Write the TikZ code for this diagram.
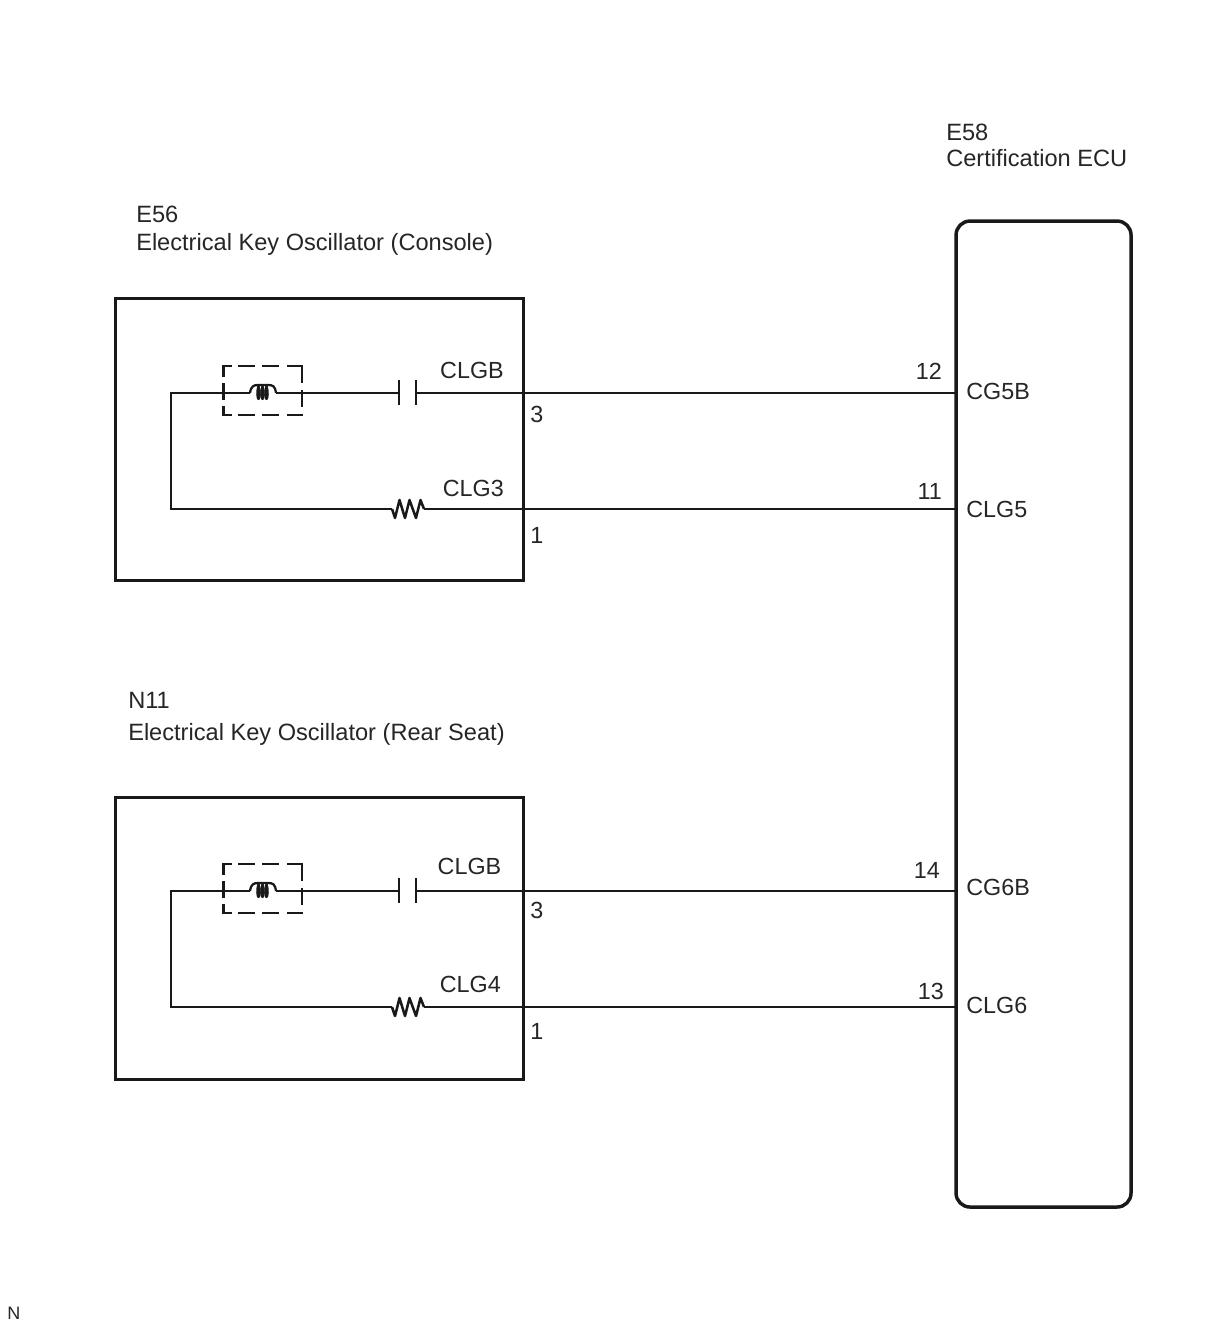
\documentclass[tikz,border=0pt]{standalone}
\usepackage{fontspec}
\setmainfont{Liberation Sans}
\tikzset{
  lbl/.style={inner sep=0pt,anchor=base west,text=black!85,font=\fontsize{17.7pt}{20pt}\selectfont},
  lblp/.style={lbl,font=\fontsize{17.5pt}{20pt}\selectfont},
  lblr/.style={lblp,anchor=base east},
  unitbox/.style={draw=black!90,line width=2.3pt,rectangle,inner sep=0pt,anchor=north west},
  ecubox/.style={draw=black!90,line width=2.6pt,rectangle,rounded corners=10.5pt,inner sep=0pt,anchor=north west},
  wire/.style={draw=black!90,line width=1.8pt,line join=miter},
  symb/.style={draw=black!90,line width=1.7pt,line join=round},
  shield/.style={draw=black!90,line width=2.2pt,line join=miter}
}
\newcommand{\oscblock}[2]{% #1 prefix, #2 y offset
  \begin{scope}[shift={(0,#2)}]
    \coordinate (#1loop) at (171,393);
    \coordinate (#1loopb) at (171,509);
    \coordinate (#1ca) at (399,393);
    \coordinate (#1cb) at (416,393);
    \coordinate (#1ra) at (392,509);
    \coordinate (#1rb) at (424,509);
    \coordinate (#1la) at (250,393);
    \coordinate (#1lb) at (276,393);
    % coil
    \draw[wire] (#1loop) -- (#1la);
    \draw[symb] (#1la) .. controls (251,386) and (254,385) .. (258,385)
      -- (268,385) .. controls (273,385) and (275,386) .. (#1lb);
    \foreach \cx in {258.5,262.5,266.5}
      \draw[symb] (\cx,386) .. controls (\cx-2,392) and (\cx-1,398.5) .. (\cx,399)
        .. controls (\cx+1,398.5) and (\cx+2,392) .. (\cx,386);
    \draw[wire] (#1lb) -- (#1ca);
    % dashed shield, dash by dash
    \draw[shield] (223.5,377) -- (223.5,366) -- (232,366);
    \draw[shield] (238,366) -- (255,366);
    \draw[shield] (262,366) -- (279,366);
    \draw[shield] (287,366) -- (302,366) -- (302,383);
    \draw[shield] (302,390) -- (302,407);
    \draw[shield] (223.5,383) -- (223.5,400);
    \draw[shield] (223.5,406) -- (223.5,415) -- (232,415);
    \draw[shield] (238,415) -- (255,415);
    \draw[shield] (262,415) -- (279,415);
    \draw[shield] (287,415) -- (303,415);
    % capacitor
    \draw[symb,line width=2.2pt] (399,380) -- (399,405);
    \draw[symb,line width=2.2pt] (416,380) -- (416,405);
    % lower branch with resistor
    \draw[wire] (#1la) -- (#1loop) -- (#1loopb) -- (#1ra);
    \draw[symb,line width=1.9pt] (#1ra) -- (395,518) -- (399.5,500) -- (405,518) -- (409.5,500) -- (416,518) -- (420.5,500) -- (#1rb);
  \end{scope}
}
\begin{document}
\begin{tikzpicture}[x=0.75pt,y=-0.75pt]
\useasboundingbox (0,0) rectangle (1210,1328);
\fill[white] (0,0) rectangle (1210,1328);

% units
\node[unitbox,minimum width=306pt,minimum height=211.5pt] (e56) at (113.5,296.5) {};
\node[unitbox,minimum width=306pt,minimum height=211.5pt] (n11) at (113.5,795.5) {};
\node[ecubox,minimum width=131.25pt,minimum height=739.5pt] (ecu) at (954.3,219.3) {};

% titles
\node[lbl] (t1) at (136,222) {E56};
\node[lbl] (t2) at (136,250) {Electrical Key Oscillator (Console)};
\node[lbl] (t3) at (128,708) {N11};
\node[lbl] (t4) at (128,740) {Electrical Key Oscillator (Rear Seat)};
\node[lbl] (t5) at (946,140) {E58};
\node[lbl] (t6) at (946,166) {Certification ECU};

\oscblock{a}{0}
\oscblock{b}{498}

% wires to the ECU
\coordinate (ae1) at (956,393);
\coordinate (ae2) at (956,509);
\coordinate (be1) at (956,891);
\coordinate (be2) at (956,1007);
\draw[wire] (acb) -- (ae1);
\draw[wire] (arb) -- (ae2);
\draw[wire] (bcb) -- (be1);
\draw[wire] (brb) -- (be2);

% pin names, E56
\node[lblr] (p1) at (504,378) {CLGB};
\node[lblr] (p2) at (504,496) {CLG3};
\node[lblp] (p3) at (530,422) {3};
\node[lblp] (p4) at (530,543) {1};
% pin names, N11
\node[lblr] (p5) at (501.5,874) {CLGB};
\node[lblr] (p6) at (501,992) {CLG4};
\node[lblp] (p7) at (530,918) {3};
\node[lblp] (p8) at (530,1039) {1};
% ECU side
\node[lblr] (q1) at (942,379) {12};
\node[lblr] (q2) at (942,499) {11};
\node[lblr] (q3) at (940,878) {14};
\node[lblr] (q4) at (944,999) {13};
\node[lblp] (r1) at (966,399) {CG5B};
\node[lblp] (r2) at (966,517) {CLG5};
\node[lblp] (r3) at (966,895) {CG6B};
\node[lblp] (r4) at (966,1013) {CLG6};
% corner mark
\node[lbl,font=\fontsize{13.5pt}{14pt}\selectfont] (nn) at (7,1319) {N};
\end{tikzpicture}
\end{document}
